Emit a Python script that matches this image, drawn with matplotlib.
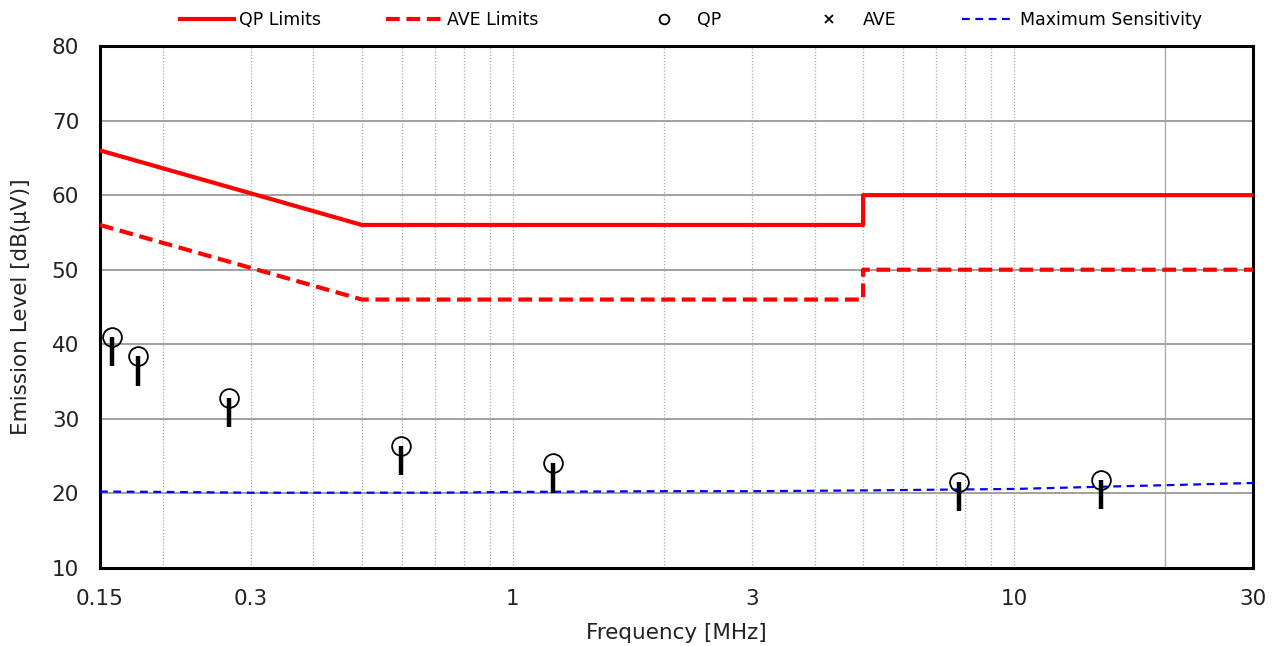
import matplotlib
matplotlib.use("Agg")
import matplotlib.pyplot as plt
from matplotlib.lines import Line2D

# Limit lines (frequency in MHz, level in dB(uV))
qp_limit_freq = [0.15, 0.5, 5.0, 5.0, 30.0]
qp_limit_level = [66, 56, 56, 60, 60]
ave_limit_freq = [0.15, 0.5, 5.0, 5.0, 30.0]
ave_limit_level = [56, 46, 46, 50, 50]

# Measured peaks
peak_freq = [0.1585, 0.179, 0.271, 0.598, 1.203, 7.77, 14.92]
qp_level = [41.0, 38.4, 32.8, 26.4, 24.1, 21.5, 21.8]
bar_bottom = [37.1, 34.4, 28.9, 22.5, 20.1, 17.6, 17.9]

# Measurement system noise floor
sens_freq = [0.15, 0.2, 0.3, 0.5, 0.7, 1.0, 2.0, 3.0, 5.0, 7.0, 10.0, 15.0, 20.0, 30.0]
sens_level = [20.25, 20.2, 20.1, 20.1, 20.1, 20.2, 20.3, 20.3, 20.4, 20.5, 20.6, 20.9, 21.1, 21.4]

x_ticks = [0.15, 0.3, 1, 3, 10, 30]
x_tick_labels = ["0.15", "0.3", "1", "3", "10", "30"]
y_ticks = [10, 20, 30, 40, 50, 60, 70, 80]

plt.rcParams['font.family'] = ['DejaVu Sans']

RED = "#ff0000"
BLUE = "#0000ff"
AVE_DASH = (0, (3.3, 1.6))
SENS_DASH = (0, (3.5, 2.5))

fig = plt.figure(figsize=(12.8, 6.46), dpi=100)
ax = fig.add_axes([0.078125, 0.12074, 0.97891 - 0.078125, 0.92879 - 0.12074])

ax.set_xscale("log")
ax.set_xlim(0.15, 30)
ax.set_ylim(10, 80)

# grid: horizontal major, vertical dotted minor
for y in y_ticks[1:-1]:
    ax.axhline(y, color="#999999", lw=1.3, zorder=1)
minor_x = [0.2, 0.3, 0.4, 0.5, 0.6, 0.7, 0.8, 0.9, 1, 2, 3, 4, 5, 6, 7, 8, 9, 10]
for x in minor_x:
    ax.axvline(x, color="#aaaaaa", lw=0.9, ls=(0, (1, 1.5)), zorder=1)
ax.axvline(20, color="#aaaaaa", lw=1.0, zorder=1)

ax.plot(qp_limit_freq, qp_limit_level, color=RED, lw=3.0, zorder=3)
ax.plot(ave_limit_freq, ave_limit_level, color=RED, lw=3.0, ls=AVE_DASH, zorder=3)
ax.plot(sens_freq, sens_level, color=BLUE, lw=1.6, ls=SENS_DASH, zorder=3)

ax.vlines(peak_freq, bar_bottom, qp_level, color="black", lw=3.2, zorder=4)
ax.plot(peak_freq, qp_level, ls="none", marker="o", ms=13.5, mfc="none",
        mec="black", mew=1.3, zorder=5)

ax.set_xticks(x_ticks)
ax.set_xticklabels(x_tick_labels)
ax.xaxis.set_minor_locator(matplotlib.ticker.NullLocator())
ax.set_yticks(y_ticks)
ax.tick_params(axis="both", length=0, labelsize=15.5, colors="#222222")
ax.tick_params(axis="y", pad=15)
ax.tick_params(axis="x", pad=15)
for s in ax.spines.values():
    s.set_linewidth(2.2)
    s.set_color("black")
ax.set_xlabel("Frequency [MHz]", fontsize=15.5, color="#222222", labelpad=10)
ax.set_ylabel("Emission Level [dB(\u03bcV)]", fontsize=15.5, color="#222222", labelpad=15)

# legend row across the top, one entry per slot
entries = [
    (Line2D([], [], color=RED, lw=3.0), "QP Limits", 180, 3.1, 0.3),
    (Line2D([], [], color=RED, lw=3.0, ls=AVE_DASH), "AVE Limits", 386, 3.2, 0.3),
    (Line2D([], [], ls="none", marker="o", ms=7, mfc="none", mec="black", mew=1.3),
     "QP", 635, 3.3, 0.3),
    (Line2D([], [], ls="none", marker="x", ms=6, color="black", mew=1.3),
     "AVE", 800, 3.3, 0.3),
    (Line2D([], [], color=BLUE, lw=1.6, ls=SENS_DASH), "Maximum Sensitivity", 962, 2.8, 0.55),
]
for handle, label, px, hl, tp in entries:
    fig.legend([handle], [label], loc="center left",
               bbox_to_anchor=(px / 1280, 1 - 20 / 646),
               frameon=False, fontsize=12.5, handlelength=hl, handletextpad=tp,
               borderpad=0, borderaxespad=0)

fig.savefig("out.png", dpi=100)
